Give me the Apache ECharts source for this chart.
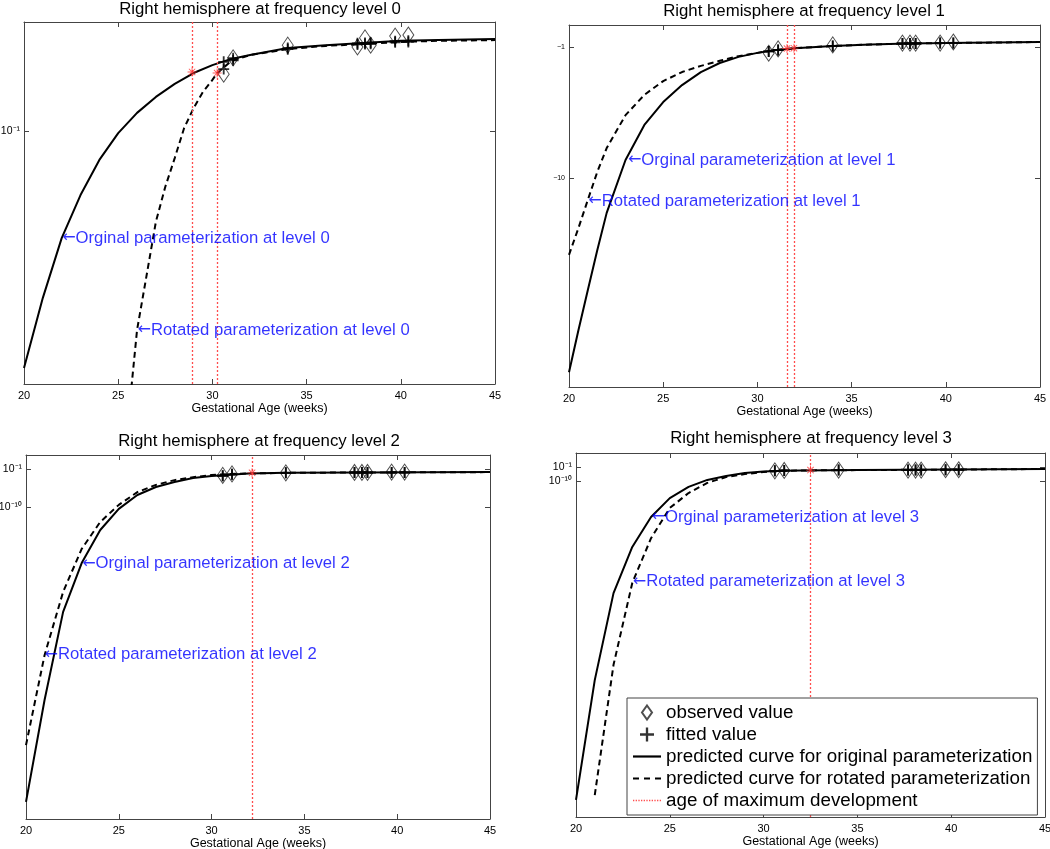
<!DOCTYPE html>
<html>
<head>
<meta charset="utf-8">
<script src="https://cdn.jsdelivr.net/npm/echarts@6/dist/echarts.min.js"></script>
<style>
  html, body { margin: 0; padding: 0; background: #fff; }
  #chart { width: 1050px; height: 849px; }
</style>
</head>
<body>
<div id="chart"></div>
<script>
var obsWeeks = [30.6, 31.1, 34.0, 37.7, 38.1, 38.4, 39.7, 40.4];

// level 0
var origX0 = [20, 21, 22, 23, 24, 25, 26, 27, 28, 29, 30, 31, 32, 34, 36, 38, 40, 42, 45];
var origY0 = [4.4, 23.8, 40.3, 52.2, 61.9, 69.3, 74.9, 79.3, 82.9, 85.9, 88.1, 89.8, 90.9, 92.8, 93.6, 94.2, 94.8, 95.0, 95.3];
var rotX0 = [25.7, 26, 26.5, 27, 27.5, 28, 28.5, 29, 29.5, 30, 30.25, 31, 32, 34, 36, 38, 40, 42, 45];
var rotY0 = [-1, 14.9, 29.8, 44.8, 54.5, 62.4, 70.7, 76.2, 80.7, 84.0, 85.9, 89.2, 90.9, 92.5, 93.4, 93.9, 94.5, 94.8, 95.0];
var obsY0 = [85.6, 90.1, 93.6, 93.1, 95.6, 93.6, 96.1, 96.4];
var fitOrigY0 = [89.0, 90.0, 92.8, 94.1, 94.2, 94.3, 94.7, 94.8];
var fitRotY0 = [87.0, 89.4, 92.5, 93.8, 93.9, 94.0, 94.4, 94.5];
var peakX0 = [28.92, 30.25];
var peakY0 = [86.2, 85.9];

// level 1
var origX1 = [20, 20.5, 21, 21.5, 22, 23, 24, 25, 26, 27, 28, 29, 30, 31, 32, 34, 36, 38, 40, 45];
var origY1 = [4.1, 15.7, 26.8, 37.8, 48.1, 62.7, 72.4, 78.7, 83.4, 87.0, 89.5, 91.2, 92.3, 93.1, 93.6, 94.2, 94.6, 94.9, 95.0, 95.3];
var rotX1 = origX1;
var rotY1 = [36.5, 43.9, 51.7, 59.4, 66.0, 75.1, 80.7, 84.5, 87.0, 88.7, 90.1, 91.4, 92.3, 93.1, 93.6, 94.2, 94.6, 94.9, 95.0, 95.3];
var obsY1 = [92.2, 93.4, 94.5, 95.0, 95.0, 95.0, 95.0, 95.3];
var fitOrigY1 = [92.7, 93.1, 94.2, 94.9, 94.9, 94.9, 95.0, 95.0];
var fitRotY1 = fitOrigY1;
var peakX1 = [31.57, 31.94];
var peakY1 = [93.5, 93.6];

// level 2
var origX2 = [20, 21, 22, 23, 24, 25, 26, 27, 28, 29, 30, 31, 32, 34, 38, 45];
var origY2 = [4.7, 32.7, 56.9, 70.3, 79.4, 85.2, 89.0, 91.2, 92.6, 93.7, 94.2, 94.6, 94.9, 95.1, 95.2, 95.3];
var rotX2 = origX2;
var rotY2 = [20.3, 45.0, 62.4, 74.2, 81.6, 86.3, 89.8, 91.8, 93.1, 93.9, 94.5, 94.8, 94.9, 95.1, 95.2, 95.3];
var obsY2 = [94.4, 94.8, 95.1, 95.2, 95.2, 95.2, 95.3, 95.3];
var fitOrigY2 = [94.3, 94.7, 95.1, 95.2, 95.2, 95.2, 95.2, 95.2];
var fitRotY2 = fitOrigY2;
var peakX2 = [32.18];
var peakY2 = [95.1];

// level 3
var origX3 = [20, 21, 22, 23, 24, 25, 26, 27, 28, 29, 30, 31, 32, 35, 45];
var origY3 = [4.7, 37.6, 61.5, 74.2, 82.4, 87.6, 90.7, 92.6, 93.7, 94.5, 94.9, 95.1, 95.2, 95.3, 95.6];
var rotX3 = [21, 22, 23, 24, 25, 26, 27, 28, 29, 30, 31, 32, 35, 45];
var rotY3 = [6.0, 41.8, 64.3, 76.6, 84.9, 89.0, 91.8, 93.4, 94.2, 94.8, 95.1, 95.2, 95.3, 95.6];
var obsY3 = [95.1, 95.2, 95.3, 95.3, 95.3, 95.3, 95.4, 95.4];
var fitOrigY3 = [95.1, 95.2, 95.3, 95.3, 95.3, 95.3, 95.4, 95.4];
var fitRotY3 = fitOrigY3;
var peakX3 = [32.5];
var peakY3 = [95.3];

// y tick positions and labels
var yTicks = [[69.9], [57.7, 93.9], [85.7, 96.2], [92.3, 96.2]];
var yTickLabels = [['10⁻¹'], ['−10', '−1'], ['10⁻¹⁰', '10⁻¹'], ['10⁻¹⁰', '10⁻¹']];

// blue annotations: arrow tip position
var noteX = [[22.0, 26.0], [23.1, 21.0], [23.0, 20.97], [24.0, 23.0]];
var noteY = [[40.3, 14.9], [62.7, 51.4], [70.1, 45.1], [82.4, 64.6]];

var titles = [
  'Right hemisphere at frequency level 0',
  'Right hemisphere at frequency level 1',
  'Right hemisphere at frequency level 2',
  'Right hemisphere at frequency level 3'
];

var origX = [origX0, origX1, origX2, origX3];
var origY = [origY0, origY1, origY2, origY3];
var rotX = [rotX0, rotX1, rotX2, rotX3];
var rotY = [rotY0, rotY1, rotY2, rotY3];
var obsY = [obsY0, obsY1, obsY2, obsY3];
var fitOrigY = [fitOrigY0, fitOrigY1, fitOrigY2, fitOrigY3];
var fitRotY = [fitRotY0, fitRotY1, fitRotY2, fitRotY3];
var peakX = [peakX0, peakX1, peakX2, peakX3];
var peakY = [peakY0, peakY1, peakY2, peakY3];

var FONT = '"Liberation Sans", Arial, Helvetica, sans-serif';
var DIAMOND = 'path://M0,-7L5,0L0,7L-5,0Z';
var PLUS = 'path://M-1,-6L1,-6L1,-1L6,-1L6,1L1,1L1,6L-1,6L-1,1L-6,1L-6,-1L-1,-1Z';
var STAR = 'path://M-5,-0.5L5,-0.5L5,0.5L-5,0.5Z M-0.5,-5L0.5,-5L0.5,5L-0.5,5Z M-3.2,-3.9L3.9,3.2L3.2,3.9L-3.9,-3.2Z M3.2,-3.9L3.9,-3.2L-3.2,3.9L-3.9,3.2Z';
// legend icons for the lines (28 wide strips)
var ICON_SOLID = 'path://M0,0L28,0L28,2.2L0,2.2Z';
var ICON_DASH = 'path://M0,0L6,0L6,2.2L0,2.2Z M11,0L17,0L17,2.2L11,2.2Z M22,0L28,0L28,2.2L22,2.2Z';
var ICON_DOT = 'path://';
for (var d = 0; d < 11; d++) {
  var x0 = d * 2.67;
  ICON_DOT += 'M' + x0 + ',0L' + (x0 + 1.3) + ',0L' + (x0 + 1.3) + ',1.3L' + x0 + ',1.3Z ';
}

var grids = [
  { left: 24, top: 22, width: 471, height: 362, outerBoundsMode: 'none' },
  { left: 569, top: 25, width: 471, height: 362, outerBoundsMode: 'none' },
  { left: 26, top: 455, width: 464, height: 364, outerBoundsMode: 'none' },
  { left: 576, top: 453, width: 469, height: 364, outerBoundsMode: 'none' }
];
var titlePos = [[260, 9], [804, 11], [259, 441], [811, 438]];

function zip(xs, ys) {
  var out = [];
  for (var k = 0; k < xs.length; k++) out.push([xs[k], ys[k]]);
  return out;
}

var xAxes = [], yAxes = [], series = [], graphics = [];

for (var i = 0; i < 4; i++) {
  var frame = { show: true, onZero: false, lineStyle: { color: '#444', width: 1 } };
  var tick = { show: true, inside: true, length: 5, lineStyle: { color: '#444' } };
  xAxes.push({
    gridIndex: i, type: 'value', min: 20, max: 45, interval: 5, position: 'bottom',
    axisLine: frame, axisTick: tick, splitLine: { show: false },
    axisLabel: { fontSize: 11, color: '#000', margin: 6, fontFamily: FONT },
    name: 'Gestational Age (weeks)', nameLocation: 'middle', nameGap: 17,
    nameTextStyle: { fontSize: 12.5, color: '#000', fontFamily: FONT }
  });
  xAxes.push({
    gridIndex: i, type: 'value', min: 20, max: 45, interval: 5, position: 'top',
    axisLine: frame, axisTick: tick, splitLine: { show: false }, axisLabel: { show: false }
  });
  (function (idx) {
    yAxes.push({
      gridIndex: idx, type: 'value', min: 0, max: 100, position: 'left',
      axisLine: frame, splitLine: { show: false },
      axisTick: { show: true, inside: true, length: 5, lineStyle: { color: '#444' }, customValues: yTicks[idx] },
      axisLabel: {
        customValues: yTicks[idx], color: '#000', margin: 4, fontFamily: FONT,
        fontSize: idx === 1 ? 7 : 10.5,
        formatter: function (v) {
          var k = yTicks[idx].indexOf(v);
          return k >= 0 ? yTickLabels[idx][k] : '';
        }
      }
    });
    yAxes.push({
      gridIndex: idx, type: 'value', min: 0, max: 100, position: 'right',
      axisLine: frame, splitLine: { show: false },
      axisTick: { show: true, inside: true, length: 5, lineStyle: { color: '#444' }, customValues: yTicks[idx] },
      axisLabel: { show: false }
    });
  })(i);

  var xi = 2 * i, yi = 2 * i;

  series.push({
    name: 'age of maximum development', type: 'line', xAxisIndex: xi, yAxisIndex: yi,
    data: [], symbol: 'none',
    itemStyle: { color: '#ff4d4d' },
    lineStyle: { color: '#ff4d4d', type: 'dotted', width: 1.3 },
    markLine: {
      silent: true, symbol: 'none', label: { show: false },
      lineStyle: { color: '#ff4d4d', type: [2, 2], width: 1.3 },
      data: peakX[i].map(function (x) { return { xAxis: x }; })
    },
    z: 1
  });
  series.push({
    name: 'predicted curve for original parameterization', type: 'line', xAxisIndex: xi, yAxisIndex: yi,
    data: zip(origX[i], origY[i]), symbol: 'none', clip: true,
    itemStyle: { color: '#000' },
    lineStyle: { color: '#000', width: 2 }, z: 3
  });
  series.push({
    name: 'predicted curve for rotated parameterization', type: 'line', xAxisIndex: xi, yAxisIndex: yi,
    data: zip(rotX[i], rotY[i]), symbol: 'none', clip: true,
    itemStyle: { color: '#000' },
    lineStyle: { color: '#000', width: 2, type: [6, 4] }, z: 3
  });
  series.push({
    name: 'observed value', type: 'scatter', xAxisIndex: xi, yAxisIndex: yi,
    data: zip(obsWeeks, obsY[i]), symbol: DIAMOND, symbolSize: [11, 16],
    itemStyle: { color: 'rgba(255,255,255,0)', borderColor: '#222', borderWidth: 1 }, z: 4
  });
  series.push({
    name: 'fitted value', type: 'scatter', xAxisIndex: xi, yAxisIndex: yi,
    data: zip(obsWeeks, fitOrigY[i]).concat(zip(obsWeeks, fitRotY[i])),
    symbol: PLUS, symbolSize: 11,
    itemStyle: { color: '#000' }, z: 5
  });
  series.push({
    name: 'peak', type: 'scatter', xAxisIndex: xi, yAxisIndex: yi,
    data: zip(peakX[i], peakY[i]), symbol: STAR, symbolSize: 9,
    itemStyle: { color: '#ff3030' }, z: 6
  });
  series.push({
    name: 'note', type: 'scatter', xAxisIndex: xi, yAxisIndex: yi,
    data: [
      { value: [noteX[i][0], noteY[i][0]], name: 'Orginal parameterization at level ' + i },
      { value: [noteX[i][1], noteY[i][1]], name: 'Rotated parameterization at level ' + i }
    ],
    symbol: 'circle', symbolSize: 1,
    itemStyle: { color: 'rgba(0,0,0,0)' },
    label: {
      show: true, position: 'right', distance: 0,
      formatter: '{a|←}{b|{b}}',
      rich: {
        a: { fontFamily: '"DejaVu Sans", sans-serif', fontSize: 16, color: '#0000ff' },
        b: { fontFamily: FONT, fontSize: 16.7, color: '#0000ff' }
      }
    },
    z: 7
  });

  graphics.push({
    type: 'text', x: titlePos[i][0], y: titlePos[i][1],
    style: {
      text: titles[i], fill: '#000', font: '16.8px ' + FONT,
      align: 'center', verticalAlign: 'middle'
    }
  });
}

var chart = echarts.init(document.getElementById('chart'));
chart.setOption({
  animation: false,
  backgroundColor: '#fff',
  grid: grids,
  xAxis: xAxes,
  yAxis: yAxes,
  series: series,
  graphic: graphics,
  legend: {
    data: [
      { name: 'observed value', icon: DIAMOND },
      { name: 'fitted value', icon: PLUS },
      { name: 'predicted curve for original parameterization', icon: ICON_SOLID },
      { name: 'predicted curve for rotated parameterization', icon: ICON_DASH },
      { name: 'age of maximum development', icon: ICON_DOT }
    ],
    orient: 'vertical', left: 627, top: 698,
    itemWidth: 28, itemHeight: 14, itemGap: 3,
    padding: [5, 5, 5, 6],
    backgroundColor: '#fff', borderColor: '#444', borderWidth: 1, borderRadius: 0,
    selectedMode: false,
    textStyle: { fontSize: 18.8, color: '#000', fontFamily: FONT, lineHeight: 16 },
    z: 10
  }
});
</script>
</body>
</html>
